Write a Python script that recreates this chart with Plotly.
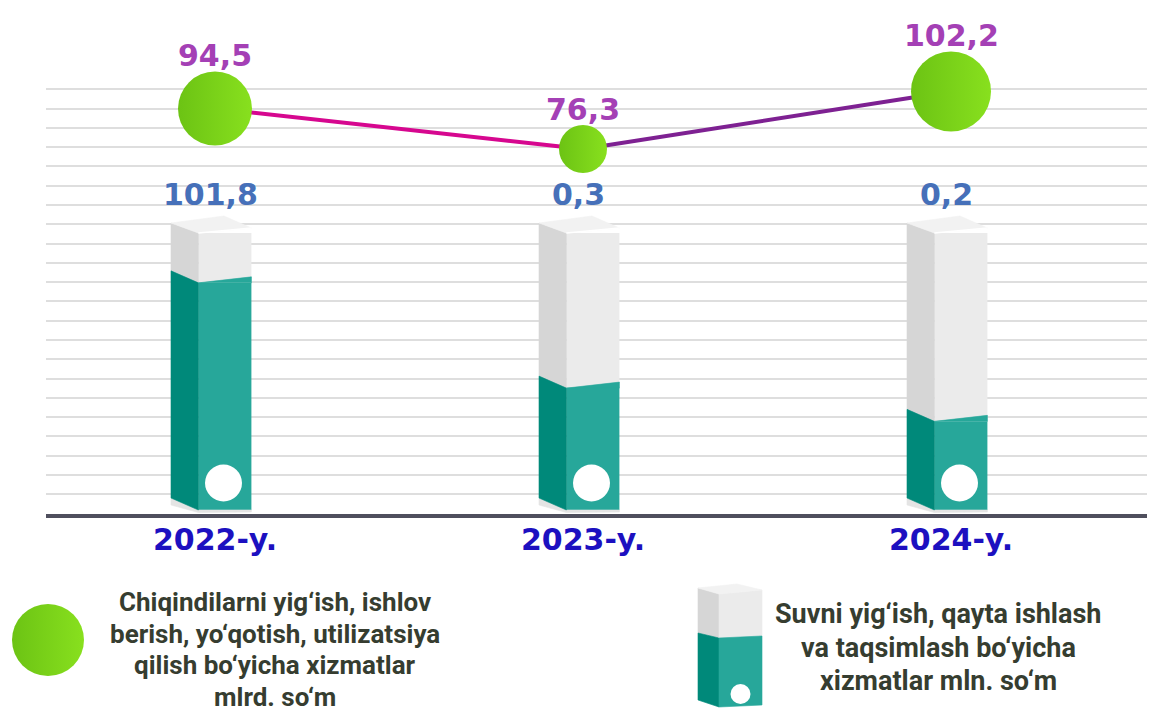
import plotly.graph_objects as go

# ---------------- data ----------------
years = ["2022-y.", "2023-y.", "2024-y."]
waste_services = [94.5, 76.3, 102.2]     # mlrd. so'm  (line with bubbles)
water_services = [101.8, 0.3, 0.2]       # mln. so'm   (tube labels)
water_fill_pct = [82, 44, 32]            # visual fill level of each tube, %
bubble_size = [74, 48, 80]               # bubble diameters (px) as drawn

legend_waste = ["Chiqindilarni yig‘ish, ishlov",
                "berish, yo‘qotish, utilizatsiya",
                "qilish bo‘yicha xizmatlar",
                "mlrd. so‘m"]
legend_water = ["Suvni yig‘ish, qayta ishlash",
                "va taqsimlash bo‘yicha",
                "xizmatlar mln. so‘m"]

# ---------------- styling / geometry (screen px) ----------------
SCR_W, SCR_H = 1155, 711
OFF = 8                      # page body margin
W, H = SCR_W - OFF, SCR_H - OFF
AX_PX = 513.5                # plot-area bottom (screen px)
X_LEFT_PX = 46
CAT_PX = 368                 # px between categories
CAT1_PX = 583                # px of middle category
U_PX = 2.77                  # px per 1 % of tube height
TUBE_BASE_PX = 510           # bottom of tube (screen px)
V_MID, PXV_MID, PX_PER_V = 91.0, 116.33, 2.224   # bubble scale anchor

TEAL_F, TEAL_L = "#27a79a", "#00897a"
GRAY_F, GRAY_L, GRAY_T = "#ebebeb", "#d6d6d6", "#f2f2f2"
GREEN_L, GREEN_R = "#6cc314", "#88e01e"
BLUE_LBL, PURPLE_LBL, YEAR_CLR = "#4670b9", "#a440b5", "#1c10c0"
TXT_CLR = "#363d30"
NUM_FONT = "DejaVu Sans"
LEG_FONT = "Roboto, Liberation Sans, sans-serif"


def px2x(d):
    return d / CAT_PX


def px2u(d):
    return d / U_PX


def fmt(v):
    return f"{v:.1f}".replace(".", ",")


def poly_trace(polys, color, xa="x", ya="y"):
    xx, yy = [], []
    for p in polys:
        for a, b in p:
            xx.append(a)
            yy.append(b)
        xx.append(p[0][0])
        yy.append(p[0][1])
        xx.append(None)
        yy.append(None)
    return go.Scatter(x=xx, y=yy, mode="lines", fill="toself", fillcolor=color,
                      line=dict(width=0.6, color=color), hoverinfo="skip",
                      showlegend=False, xaxis=xa, yaxis=ya)


xs = list(range(len(years)))
fig = go.Figure()

# ---- tube front faces (real bars) ----
FRONT_W = px2x(53)
FRONT_OFF = px2x(-16.6)
fig.add_trace(go.Bar(x=xs, y=water_fill_pct, base=0, width=FRONT_W, offset=FRONT_OFF,
                     marker=dict(color=TEAL_F, line=dict(width=0)), hoverinfo="skip",
                     showlegend=False))
fig.add_trace(go.Bar(x=xs, y=[100 - f for f in water_fill_pct], base=water_fill_pct,
                     width=FRONT_W, offset=FRONT_OFF,
                     marker=dict(color=GRAY_F, line=dict(width=0)), hoverinfo="skip",
                     showlegend=False))

# ---- 3D decoration of tubes, derived from the same data ----
left_gray, left_teal, tops, wedges, shadows, edges_x, edges_y = [], [], [], [], [], [], []
for i, f in zip(xs, water_fill_pct):
    xl, xm, xr = i + px2x(-44), i + px2x(-16.6), i + px2x(36.4)
    top_l = 100 + px2u(10)
    teal_l = f + px2u(12)
    bot_l = px2u(12)
    left_gray.append([(xl, top_l), (xm, 100), (xm, f), (xl, teal_l)])
    left_teal.append([(xl, teal_l), (xm, f), (xm, 0), (xl, bot_l)])
    wedges.append([(xm, f), (xr, f + px2u(6)), (xr, f)])
    tops.append([(xl, top_l), (xl + px2x(53), 100 + px2u(17)), (xr, 100 + px2u(5)), (xm, 100)])
    shadows.append([(xl, bot_l), (xm, 0), (xr, 0), (xr, -px2u(2)), (xm, -px2u(2.5)),
                    (xl, bot_l - px2u(7))])
    edges_x += [xm, xr, None]
    edges_y += [100, 100 + px2u(5), None]

fig.add_trace(poly_trace(shadows, "#e4e4e4"))
fig.add_trace(poly_trace(left_gray, GRAY_L))
fig.add_trace(poly_trace(left_teal, TEAL_L))
fig.add_trace(poly_trace(wedges, TEAL_F))
fig.add_trace(poly_trace(tops, GRAY_T))
fig.add_trace(go.Scatter(x=edges_x, y=edges_y, mode="lines",
                         line=dict(color="white", width=1.5), hoverinfo="skip",
                         showlegend=False))
# white ovals on tubes
fig.add_trace(go.Scatter(x=[i + px2x(8.5) for i in xs], y=[px2u(27)] * len(xs),
                         mode="markers", marker=dict(size=37, color="white", opacity=1),
                         hoverinfo="skip", showlegend=False))

# ---- line + bubbles on secondary axis ----
fig.add_trace(go.Scatter(x=xs[0:2], y=waste_services[0:2], mode="lines", yaxis="y2",
                         line=dict(color="#d6078f", width=4), hoverinfo="skip",
                         showlegend=False))
fig.add_trace(go.Scatter(x=xs[1:3], y=waste_services[1:3], mode="lines", yaxis="y2",
                         line=dict(color="#7e2192", width=4), hoverinfo="skip",
                         showlegend=False))
fig.add_trace(go.Scatter(x=xs, y=waste_services, mode="markers", yaxis="y2",
                         marker=dict(size=bubble_size, color=GREEN_L, opacity=1,
                                     gradient=dict(type="horizontal", color=GREEN_R),
                                     line=dict(width=0)),
                         hoverinfo="skip", showlegend=False))

# ---- value labels ----
ann = []
for i, v in zip(xs, water_services):
    ann.append(dict(x=i + px2x(-5), y=100, xref="x", yref="y", yshift=39,
                    text=f"<b>{fmt(v)}</b>", showarrow=False, yanchor="middle",
                    font=dict(family=NUM_FONT, size=30, color=BLUE_LBL)))
for i, v, s in zip(xs, waste_services, bubble_size):
    ann.append(dict(x=i, y=v, xref="x", yref="y2", yshift=s / 2 + 16,
                    text=f"<b>{fmt(v)}</b>", showarrow=False, yanchor="middle",
                    font=dict(family=NUM_FONT, size=30, color=PURPLE_LBL)))

# ---- custom legend ----
def px_paper(xp, yp):
    return (xp - OFF) / W, 1 - (yp - OFF) / H


LEG_L_CX, LEG_L_Y0, LEG_L_DY = 275, 602, 31.5
for k, line in enumerate(legend_waste):
    px_, py_ = px_paper(LEG_L_CX, LEG_L_Y0 + k * LEG_L_DY)
    ann.append(dict(x=px_, y=py_, xref="paper", yref="paper", text=f"<b>{line}</b>",
                    showarrow=False, xanchor="center", yanchor="middle",
                    font=dict(family=LEG_FONT, size=26, color=TXT_CLR)))
LEG_R_CX, LEG_R_Y0, LEG_R_DY = 938, 614, 33.5
for k, line in enumerate(legend_water):
    px_, py_ = px_paper(LEG_R_CX, LEG_R_Y0 + k * LEG_R_DY)
    ann.append(dict(x=px_, y=py_, xref="paper", yref="paper", text=f"<b>{line}</b>",
                    showarrow=False, xanchor="center", yanchor="middle",
                    font=dict(family=LEG_FONT, size=27, color=TXT_CLR)))

# legend icons on a full-figure pixel overlay axis (screen px)
fig.add_trace(go.Scatter(x=[48], y=[640], mode="markers", xaxis="x2", yaxis="y3",
                         marker=dict(size=72, color=GREEN_L, opacity=1,
                                     gradient=dict(type="horizontal", color=GREEN_R),
                                     line=dict(width=0)),
                         hoverinfo="skip", showlegend=False))
ix, iwl, iwf = 698, 21, 43
it, iteal, ib = 588, 633, 700
i_xm, i_xr = ix + iwl, ix + iwl + iwf
fig.add_trace(poly_trace([[(ix, it), (i_xm, it + 6), (i_xm, iteal + 5), (ix, iteal)]], GRAY_L, "x2", "y3"))
fig.add_trace(poly_trace([[(ix, iteal), (i_xm, iteal + 5), (i_xm, ib + 7), (ix, ib)]], TEAL_L, "x2", "y3"))
fig.add_trace(poly_trace([[(i_xm, it + 6), (i_xr, it + 2), (i_xr, iteal + 3), (i_xm, iteal + 5)]], GRAY_F, "x2", "y3"))
fig.add_trace(poly_trace([[(i_xm, iteal + 5), (i_xr, iteal + 3), (i_xr, ib + 5), (i_xm, ib + 7)]], TEAL_F, "x2", "y3"))
fig.add_trace(poly_trace([[(ix, it), (ix + 39, it - 4), (i_xr, it + 2), (i_xm, it + 6)]], GRAY_T, "x2", "y3"))
fig.add_trace(go.Scatter(x=[i_xm + iwf / 2], y=[ib - 6], mode="markers", xaxis="x2", yaxis="y3",
                         marker=dict(size=20, color="white", opacity=1), hoverinfo="skip",
                         showlegend=False))

# ---------------- layout ----------------
grid_vals = [(TUBE_BASE_PX - (89.3 + 19.286 * k)) / U_PX for k in range(22)]
y_dom = [1 - (AX_PX - OFF) / H, 1]

fig.update_layout(
    width=W, height=H, margin=dict(l=0, r=0, t=0, b=0),
    paper_bgcolor="white", plot_bgcolor="rgba(0,0,0,0)",
    barmode="overlay", showlegend=False, annotations=ann,
    xaxis=dict(domain=[(X_LEFT_PX - OFF) / W, 1],
               range=[(X_LEFT_PX - CAT1_PX) / CAT_PX + 1, (SCR_W - CAT1_PX) / CAT_PX + 1],
               tickvals=xs, ticktext=[f"<b>{y}</b>" for y in years],
               tickfont=dict(family=NUM_FONT, size=30, color=YEAR_CLR),
               showgrid=False, zeroline=False, showline=True, linewidth=4,
               linecolor="#4f4f5d", ticks="", ticklabelstandoff=-4, fixedrange=True),
    yaxis=dict(domain=y_dom,
               range=[-(AX_PX - TUBE_BASE_PX) / U_PX, (TUBE_BASE_PX - OFF) / U_PX],
               tickvals=grid_vals, showticklabels=False, showgrid=True,
               gridcolor="#dedede", gridwidth=1.5, zeroline=False, fixedrange=True),
    yaxis2=dict(domain=y_dom, overlaying="y",
                range=[V_MID - (AX_PX - PXV_MID) / PX_PER_V, V_MID + (PXV_MID - OFF) / PX_PER_V],
                visible=False, fixedrange=True),
    xaxis2=dict(domain=[0, 1], range=[OFF, SCR_W], visible=False, anchor="y3", fixedrange=True),
    yaxis3=dict(domain=[0, 1], range=[SCR_H, OFF], visible=False, anchor="x2", fixedrange=True),
)

fig.write_html("out.html")
